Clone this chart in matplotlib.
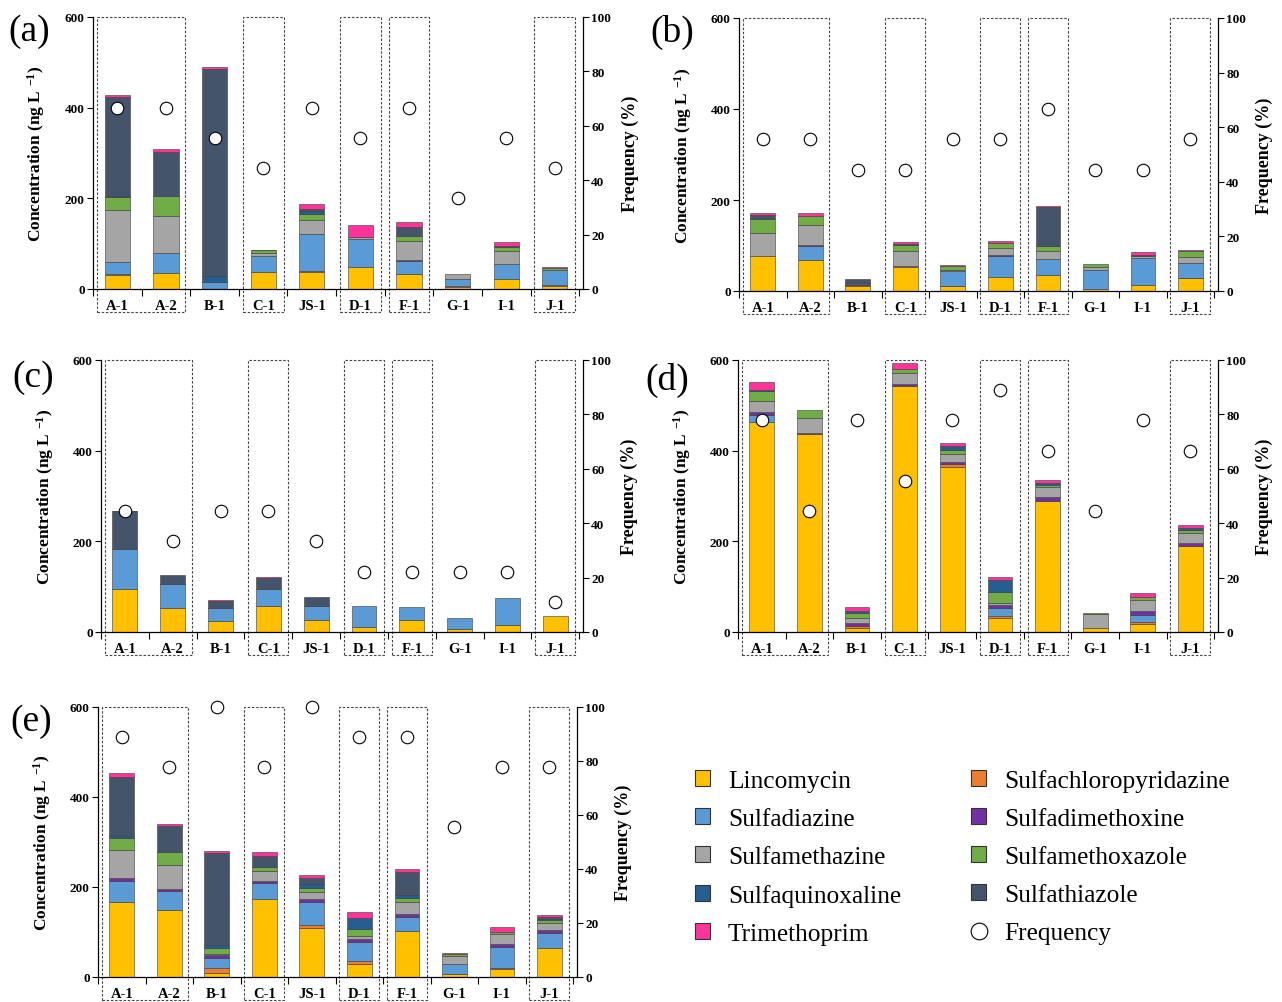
import matplotlib
matplotlib.use('Agg')
import matplotlib.pyplot as plt
import numpy as np
from matplotlib.patches import Rectangle, Patch
from matplotlib.lines import Line2D
import matplotlib.transforms as mtrans

plt.rcParams['font.family'] = ['Liberation Serif', 'DejaVu Serif']
plt.rcParams['mathtext.fontset'] = 'custom'
plt.rcParams['mathtext.rm'] = 'Liberation Serif:bold'
plt.rcParams['mathtext.bf'] = 'Liberation Serif:bold'
plt.rcParams['mathtext.default'] = 'bf'

sites = ['A-1', 'A-2', 'B-1', 'C-1', 'JS-1', 'D-1', 'F-1', 'G-1', 'I-1', 'J-1']
compounds = ['Lincomycin', 'Sulfachloropyridazine', 'Sulfadiazine', 'Sulfadimethoxine',
             'Sulfamethazine', 'Sulfamethoxazole', 'Sulfaquinoxaline', 'Sulfathiazole',
             'Trimethoprim']
colors = ['#FFC000', '#ED7D31', '#5B9BD5', '#7030A0', '#A5A5A5', '#70AD47',
          '#255E91', '#44546A', '#FF3399']

# ---- panel (a) ----
a_lin = [30, 35, 0, 37, 38, 48, 33, 4, 22, 6]
a_scp = [2, 0, 0, 0, 2, 0, 0, 2, 0, 2]
a_sdz = [28, 44, 16, 35, 82, 63, 28, 15, 34, 33]
a_sdm = [0, 0, 0, 0, 0, 0, 2, 0, 0, 0]
a_smz = [114, 83, 0, 7, 30, 4, 42, 12, 28, 0]
a_smx = [30, 44, 0, 6, 14, 0, 12, 0, 8, 6]
a_sqx = [2, 0, 12, 0, 6, 0, 0, 0, 0, 0]
a_stz = [217, 97, 458, 2, 5, 0, 19, 0, 2, 0]
a_tmp = [5, 6, 3, 0, 11, 26, 12, 0, 10, 2]
a_freq = [66.7, 66.7, 55.6, 44.4, 66.7, 55.6, 66.7, 33.3, 55.6, 44.4]

# ---- panel (b) ----
b_lin = [78, 68, 12, 53, 10, 31, 35, 5, 14, 28]
b_scp = [0, 0, 2, 2, 2, 0, 0, 0, 0, 1]
b_sdz = [0, 32, 0, 0, 31, 46, 35, 41, 58, 32]
b_sdm = [0, 2, 1, 0, 0, 2, 0, 0, 0, 1]
b_smz = [49, 42, 3, 32, 3, 16, 17, 6, 5, 12]
b_smx = [31, 21, 0, 14, 8, 11, 13, 7, 0, 13]
b_sqx = [0, 0, 0, 0, 0, 0, 0, 0, 0, 0]
b_stz = [8, 0, 9, 3, 0, 0, 84, 0, 2, 0]
b_tmp = [6, 6, 0, 4, 3, 3, 2, 0, 6, 3]
b_freq = [55.6, 55.6, 44.4, 44.4, 55.6, 55.6, 66.7, 44.4, 44.4, 55.6]

# ---- panel (c) ----
c_lin = [95, 54, 24, 57, 26, 12, 27, 6, 16, 35]
c_scp = [0, 0, 0, 0, 0, 0, 0, 0, 0, 0]
c_sdz = [88, 51, 30, 37, 32, 45, 28, 24, 58, 0]
c_sdm = [0, 0, 0, 0, 0, 0, 0, 0, 0, 0]
c_smz = [0, 0, 0, 0, 0, 0, 0, 0, 0, 0]
c_smx = [0, 0, 0, 0, 0, 0, 0, 0, 0, 0]
c_sqx = [0, 0, 0, 0, 0, 0, 0, 0, 0, 0]
c_stz = [83, 21, 15, 26, 19, 0, 0, 0, 0, 0]
c_tmp = [2, 0, 2, 2, 0, 0, 0, 0, 0, 0]
c_freq = [44.4, 33.3, 44.4, 44.4, 33.3, 22.2, 22.2, 22.2, 22.2, 11.1]

# ---- panel (d) ----
d_lin = [463, 437, 8, 542, 365, 30, 290, 8, 17, 190]
d_scp = [0, 0, 6, 0, 5, 5, 0, 0, 4, 0]
d_sdz = [16, 0, 0, 0, 0, 19, 0, 0, 17, 0]
d_sdm = [7, 3, 6, 4, 4, 5, 7, 0, 8, 6]
d_smz = [23, 31, 10, 26, 18, 4, 23, 31, 25, 22]
d_smx = [22, 19, 12, 9, 9, 25, 4, 3, 6, 7]
d_sqx = [3, 0, 4, 0, 9, 27, 5, 0, 0, 4]
d_stz = [0, 0, 0, 0, 0, 0, 0, 0, 0, 0]
d_tmp = [18, 0, 10, 12, 6, 6, 6, 0, 10, 8]
d_freq = [77.8, 44.4, 77.8, 55.6, 77.8, 88.9, 66.7, 44.4, 77.8, 66.7]

# ---- panel (e) ----
e_lin = [167, 148, 10, 173, 110, 30, 103, 6, 17, 64]
e_scp = [0, 0, 10, 0, 6, 6, 0, 0, 4, 0]
e_sdz = [47, 43, 22, 36, 50, 41, 30, 24, 45, 34]
e_sdm = [6, 5, 6, 5, 7, 7, 7, 0, 8, 6]
e_smz = [62, 52, 4, 22, 15, 7, 26, 17, 21, 16]
e_smx = [28, 29, 13, 9, 10, 15, 10, 5, 5, 6]
e_sqx = [3, 0, 7, 0, 9, 25, 6, 0, 0, 4]
e_stz = [132, 59, 203, 25, 12, 0, 51, 0, 0, 3]
e_tmp = [8, 4, 5, 7, 8, 13, 6, 2, 11, 4]
e_freq = [88.9, 77.8, 100, 77.8, 100, 88.9, 88.9, 55.6, 77.8, 77.8]

panels = {
    'a': [a_lin, a_scp, a_sdz, a_sdm, a_smz, a_smx, a_sqx, a_stz, a_tmp],
    'b': [b_lin, b_scp, b_sdz, b_sdm, b_smz, b_smx, b_sqx, b_stz, b_tmp],
    'c': [c_lin, c_scp, c_sdz, c_sdm, c_smz, c_smx, c_sqx, c_stz, c_tmp],
    'd': [d_lin, d_scp, d_sdz, d_sdm, d_smz, d_smx, d_sqx, d_stz, d_tmp],
    'e': [e_lin, e_scp, e_sdz, e_sdm, e_smz, e_smx, e_sqx, e_stz, e_tmp],
}
freqs = {'a': a_freq, 'b': b_freq, 'c': c_freq, 'd': d_freq, 'e': e_freq}

boxed = [(-0.42, 1.40), (2.58, 3.42), (4.58, 5.42), (5.58, 6.42), (8.58, 9.42)]

W, H = 1282, 1003
def rect(l, r, t, b):
    return [l / W, 1 - b / H, (r - l) / W, (b - t) / H]

layout = {
    'a': (rect(93, 583, 18, 290), (8, 32)),
    'b': (rect(739, 1218, 19, 292), (650, 32)),
    'c': (rect(101, 583, 361, 633), (12, 378)),
    'd': (rect(738, 1218, 361, 633), (645, 380)),
    'e': (rect(98, 577, 708, 978), (10, 722)),
}

fig = plt.figure(figsize=(W / 100, H / 100), dpi=100)

for key, series in panels.items():
    pos, lab = layout[key]
    ax = fig.add_axes(pos)
    x = np.arange(len(sites))
    bottom = np.zeros(len(sites))
    for vals, col in zip(series, colors):
        v = np.array(vals, dtype=float)
        m = v > 0
        if m.any():
            ax.bar(x[m], v[m], width=0.52, bottom=bottom[m], color=col,
                   edgecolor='#3a3a3a', linewidth=0.4, zorder=2)
        bottom += v
    ax.set_xlim(-0.5, 9.58)
    ax.set_ylim(0, 600)
    ax.set_yticks([0, 200, 400, 600])
    ax.set_yticklabels(['0', '200', '400', '600'], fontweight='bold', fontsize=9.5)
    ax.set_xticks(x)
    ax.set_xticklabels(sites, fontweight='bold', fontsize=10.5)
    ax.set_xticks(np.arange(-0.5, 10, 1), minor=True)
    ax.tick_params(axis='x', which='major', length=0, pad=7)
    ax.tick_params(axis='x', which='minor', length=5, width=0.8, direction='out')
    ax.tick_params(axis='y', length=4, width=0.8, direction='out', pad=2)
    for s in ['top', 'right']:
        ax.spines[s].set_visible(False)
    for s in ['left', 'bottom']:
        ax.spines[s].set_linewidth(0.9)
    ax.set_ylabel(r'Concentration (ng L $^{-1}$)', fontweight='bold', fontsize=12.5)
    ax.yaxis.set_label_coords(-0.094, 0.5)

    trans = mtrans.blended_transform_factory(ax.transData, ax.transAxes)
    for x0, x1 in boxed:
        ax.add_patch(Rectangle((x0, -0.085), x1 - x0, 1.085, transform=trans,
                               fill=False, ls=(0, (2.2, 1.6)), lw=0.8,
                               ec='#444444', clip_on=False, zorder=0.5))

    ax2 = ax.twinx()
    ax2.set_ylim(0, 100)
    ax2.set_yticks([0, 20, 40, 60, 80, 100])
    ax2.set_yticklabels(['0', '20', '40', '60', '80', '100'], fontweight='bold', fontsize=9.5)
    ax2.tick_params(axis='y', length=4, width=0.8, direction='out', pad=2)
    ax2.spines['top'].set_visible(False)
    ax2.spines['left'].set_visible(False)
    ax2.spines['bottom'].set_visible(False)
    ax2.spines['right'].set_linewidth(0.9)
    ax2.plot(x, freqs[key], ls='none', marker='o', ms=9, mfc='white', mec='black',
             mew=0.8, zorder=5, clip_on=False)
    ax2.set_ylabel('Frequency (%)', fontweight='bold', fontsize=13, rotation=90)
    ax2.yaxis.set_label_coords(1.078, 0.5)

    fig.text(lab[0] / W, 1 - lab[1] / H, '(%s)' % key, fontsize=27,
             ha='left', va='center')

# legend (column-major ordering to reproduce row layout)
order = [0, 2, 4, 6, 8, 1, 3, 5, 7]
handles = [Patch(facecolor=colors[i], edgecolor='#333333', linewidth=0.8) for i in order]
labels = [compounds[i] for i in order]
handles.append(Line2D([], [], ls='none', marker='o', ms=12, mfc='white', mec='black', mew=0.8))
labels.append('Frequency')
fig.legend(handles, labels, loc='upper left', bbox_to_anchor=(695 / W, 1 - 770 / H),
           ncol=2, frameon=False, prop={'size': 18.3}, handlelength=0.6,
           handleheight=0.6, handletextpad=0.7, labelspacing=0.63,
           columnspacing=2.75, borderaxespad=0, borderpad=0)

fig.savefig('out.png', dpi=100)
